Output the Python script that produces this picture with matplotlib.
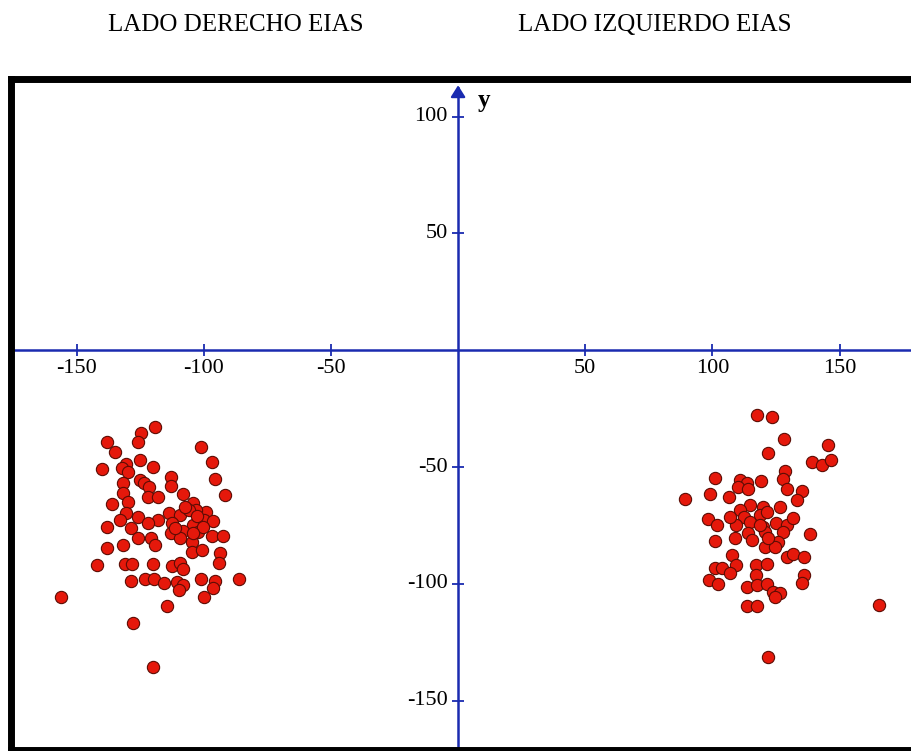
import matplotlib
matplotlib.use("Agg")
import matplotlib.pyplot as plt

# EIAS points, right side (left cluster) and left side (right cluster)
left_x = [-119.1, -124.8, -126.0, -138.2, -101.1, -135.1, -96.7, -125.0, -130.7, -132.0,
          -129.6, -140.0, -120.1, -95.6, -112.7, -112.7, -125.0, -123.5, -121.6, -131.7,
          -131.7, -108.0, -91.6, -122.0, -117.9, -129.6, -136.1, -104.1, -99.1, -130.6,
          -113.5, -109.3, -103.0, -106.0, -125.8, -117.9, -132.9, -122.0, -112.6, -99.9,
          -96.2, -138.2, -128.7, -104.1, -108.3, -102.1, -113.0, -96.9, -92.5, -126.0,
          -120.8, -109.3, -119.1, -104.7, -138.2, -131.9, -104.7, -100.8, -93.6, -93.9,
          -142.1, -130.9, -128.3, -120.1, -112.6, -109.3, -108.3, -86.0, -128.7, -123.1,
          -119.5, -115.6, -110.6, -108.3, -109.7, -101.1, -95.6, -96.5, -99.9, -156.1,
          -114.6, -127.7, -120.1, -107.4, -102.8, -100.2, -104.1, -111.3]
left_y = [-33.0, -35.5, -39.1, -39.1, -41.5, -43.7, -47.8, -47.0, -48.7, -50.5,
          -52.0, -50.7, -50.1, -55.0, -54.4, -58.1, -55.5, -56.9, -58.6, -56.7,
          -61.2, -61.6, -61.8, -62.8, -62.8, -64.8, -65.8, -65.5, -69.1, -69.5,
          -69.5, -70.5, -68.4, -68.4, -71.5, -72.6, -72.6, -74.1, -74.1, -72.6,
          -72.9, -75.5, -76.2, -74.8, -77.2, -77.6, -78.3, -79.5, -79.5, -80.5,
          -80.2, -80.2, -83.3, -81.9, -84.5, -83.3, -86.2, -85.5, -86.6, -90.9,
          -91.9, -91.6, -91.6, -91.6, -92.2, -90.9, -93.6, -97.9, -98.8, -97.9,
          -97.9, -99.7, -99.1, -100.5, -102.6, -97.9, -98.8, -101.6, -105.7, -105.7,
          -109.3, -116.9, -135.4, -67.0, -70.9, -75.5, -78.3, -76.2]

right_x = [117.5, 123.4, 128.3, 145.6, 122.0, 139.1, 143.0, 146.7, 128.6, 127.9,
           101.2, 110.9, 113.5, 119.1, 110.2, 114.2, 129.2, 135.4, 133.2, 89.4,
           99.1, 106.6, 114.8, 120.1, 110.9, 112.6, 118.8, 126.6, 121.4, 98.4,
           101.7, 109.3, 114.8, 120.1, 125.0, 129.5, 131.6, 127.9, 138.4, 101.1,
           108.9, 114.2, 115.5, 120.7, 126.0, 120.5, 124.7, 107.6, 129.5, 131.9,
           136.2, 109.3, 117.2, 121.4, 101.1, 103.7, 107.0, 117.1, 136.1, 135.1,
           98.8, 102.4, 113.5, 117.5, 121.4, 124.0, 126.6, 124.7, 113.5, 117.5,
           165.6, 122.0, 118.8, 107.0, 122.0]
right_y = [-27.7, -28.7, -37.8, -40.7, -44.1, -47.7, -49.1, -47.0, -51.5, -55.2,
           -54.8, -55.5, -56.9, -55.8, -58.4, -59.5, -59.5, -60.2, -64.1, -63.8,
           -61.6, -62.7, -66.2, -66.9, -68.4, -71.2, -70.5, -66.9, -69.1, -72.2,
           -74.8, -74.8, -73.4, -75.5, -73.8, -74.8, -71.7, -77.6, -78.6, -81.6,
           -80.5, -78.3, -81.2, -77.6, -81.9, -84.3, -84.3, -87.6, -88.4, -87.3,
           -88.6, -91.9, -91.9, -91.6, -93.3, -93.3, -95.5, -96.2, -96.2, -99.7,
           -98.3, -100.2, -101.5, -100.5, -100.2, -103.3, -104.0, -105.7, -109.5, -109.5,
           -108.9, -131.4, -74.8, -71.2, -80.4]

x_ticks = [-150, -100, -50, 50, 100, 150]
y_ticks = [100, 50, -50, -100, -150]
titles = ["LADO DERECHO EIAS", "LADO IZQUIERDO EIAS"]

axis_blue = "#1a2bb0"
serif = "Liberation Serif"

fig = plt.figure(figsize=(9.12, 7.51), dpi=100)
ax = fig.add_axes([11 / 912, 1 / 751, 1 - 11 / 912, 671 / 751])
ax.set_xlim(-175.8, 178.5)
ax.set_ylim(-171.1, 116.1)
ax.set_xticks([])
ax.set_yticks([])

# thick black frame, open on the right
for side in ["left", "top", "bottom"]:
    ax.spines[side].set_linewidth(5)
    ax.spines[side].set_color("black")
    ax.spines[side].set_capstyle("projecting")
ax.spines["right"].set_visible(False)

# coordinate axes through the origin
ax.axhline(0, color=axis_blue, lw=1.8, zorder=1)
ytop = ax.get_ylim()[1]
ax.plot([0, 0], [ax.get_ylim()[0], ytop - 4], color=axis_blue, lw=1.8, zorder=1)
ax.annotate("", xy=(0, ytop - 1.5), xytext=(0, ytop - 8),
            arrowprops=dict(arrowstyle="-|>,head_length=0.35,head_width=0.22",
                            color=axis_blue, lw=1.6, mutation_scale=20))
ax.text(10, 107, "y", fontsize=18, fontweight="bold", family=serif,
        ha="center", va="center")

# tick marks and labels
ax.plot(x_ticks, [0] * len(x_ticks), ls="none", marker="|", markersize=9,
        mew=1.3, color=axis_blue, zorder=1)
ax.plot([0] * len(y_ticks), y_ticks, ls="none", marker="_", markersize=9,
        mew=1.3, color=axis_blue, zorder=1)
for t in x_ticks:
    ax.annotate(str(t), (t, 0), xytext=(0, -13), textcoords="offset points",
                ha="center", va="center", fontsize=16, family=serif)
for t in y_ticks:
    ax.annotate(str(t), (0, t), xytext=(-7.5, 0), textcoords="offset points",
                ha="right", va="center", fontsize=16, family=serif)

# the two clusters
for xs, ys in [(left_x, left_y), (right_x, right_y)]:
    ax.scatter(xs, ys, s=78, color="#e5180b", edgecolors="#5c0c04",
               linewidths=0.8, zorder=3)

fig.text(236 / 912, 1 - 31 / 751, titles[0], ha="center", va="baseline",
         fontsize=18, family=serif)
fig.text(655 / 912, 1 - 31 / 751, titles[1], ha="center", va="baseline",
         fontsize=18, family=serif)

fig.savefig("out.png", dpi=100)
